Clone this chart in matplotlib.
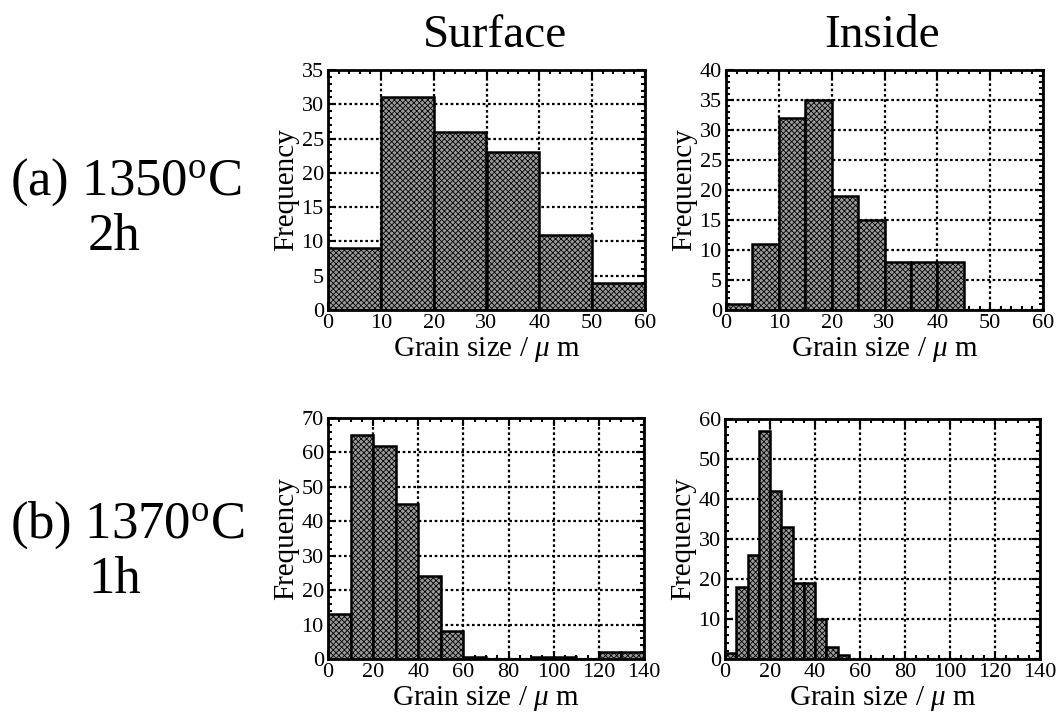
import numpy as np
import matplotlib
matplotlib.use('Agg')
import matplotlib.pyplot as plt
from matplotlib.ticker import MultipleLocator

plt.rcParams['font.family'] = ['Liberation Serif', 'DejaVu Serif']
plt.rcParams['mathtext.fontset'] = 'custom'
plt.rcParams['mathtext.rm'] = 'Liberation Serif'
plt.rcParams['mathtext.it'] = 'Liberation Serif:italic'
plt.rcParams['hatch.linewidth'] = 0.6
plt.rcParams['hatch.color'] = 'black'

# ---- data ----
# (a) 1350oC 2h
surf_a_edges = [0, 10, 20, 30, 40, 50]
surf_a_width = 10
surf_a_freq = [9, 31, 26, 23, 11, 4]
ins_a_edges = [0, 5, 10, 15, 20, 25, 30, 35, 40]
ins_a_width = 5
ins_a_freq = [1, 11, 32, 35, 19, 15, 8, 8, 8]
# (b) 1370oC 1h
surf_b_edges = [0, 10, 20, 30, 40, 50, 60, 70, 80, 90, 100, 110, 120, 130]
surf_b_width = 10
surf_b_freq = [13, 65, 62, 45, 24, 8, 0.5, 0, 0, 0.5, 0.5, 0, 2, 2]
ins_b_edges = [0, 5, 10, 15, 20, 25, 30, 35, 40, 45, 50]
ins_b_width = 5
ins_b_freq = [1.5, 18, 26, 57, 42, 33, 19, 19, 10, 3, 1]

W, H = 1056, 719
fig = plt.figure(figsize=(W / 100, H / 100), dpi=100)


def box(l, t, r, b):
    return [l / W, (H - b) / H, (r - l) / W, (b - t) / H]


def panel(rect, edges, width, freq, xmax, xmaj, xmin, ymax, ymaj, ymin):
    ax = fig.add_axes(rect)
    ax.bar(edges, freq, width=width, align='edge', facecolor='#9a9a9a',
           edgecolor='black', linewidth=1.8, hatch='xxxxxx', zorder=3)
    ax.set_xlim(0, xmax)
    ax.set_ylim(0, ymax)
    ax.xaxis.set_major_locator(MultipleLocator(xmaj))
    ax.xaxis.set_minor_locator(MultipleLocator(xmin))
    ax.yaxis.set_major_locator(MultipleLocator(ymaj))
    ax.yaxis.set_minor_locator(MultipleLocator(ymin))
    ax.grid(True, which='major', color='black', linestyle=(0, (1.2, 1.2)),
            linewidth=1.6, zorder=1)
    ax.tick_params(which='both', direction='in', top=True, right=True,
                   labelsize=16, width=1.5)
    ax.tick_params(which='major', length=6)
    ax.tick_params(axis='x', which='major', pad=3)
    ax.tick_params(axis='y', which='major', pad=3)
    ax.tick_params(which='minor', length=3)
    for s in ax.spines.values():
        s.set_linewidth(2)
        s.set_zorder(4)
    ax.set_ylabel('Frequency', fontsize=21, labelpad=2)
    ax.set_xlabel(r'Grain size / $\mu$ m', fontsize=21, labelpad=1)
    return ax


panel(box(328, 70, 645, 310), surf_a_edges, surf_a_width, surf_a_freq,
      60, 10, 2, 35, 5, 1)
panel(box(726, 70, 1043, 310), ins_a_edges, ins_a_width, ins_a_freq,
      60, 10, 2, 40, 5, 1)
panel(box(328, 418, 644, 659), surf_b_edges, surf_b_width, surf_b_freq,
      140, 20, 5, 70, 10, 2)
panel(box(725, 419, 1040, 659), ins_b_edges, ins_b_width, ins_b_freq,
      140, 20, 5, 60, 10, 2)

fig.text(495 / W, 1 - 36 / H, 'Surface', fontsize=34, ha='center', va='center')
fig.text(882 / W, 1 - 36 / H, 'Inside', fontsize=34, ha='center', va='center')

fig.text(10 / W, 1 - 182 / H, r'(a) 1350$^{\rm o}$C', fontsize=38, ha='left', va='center')
fig.text(88 / W, 1 - 237 / H, '2h', fontsize=38, ha='left', va='center')
fig.text(10 / W, 1 - 525 / H, r'(b) 1370$^{\rm o}$C', fontsize=38, ha='left', va='center')
fig.text(88 / W, 1 - 580 / H, '1h', fontsize=38, ha='left', va='center')

plt.savefig('out.png', dpi=100)
